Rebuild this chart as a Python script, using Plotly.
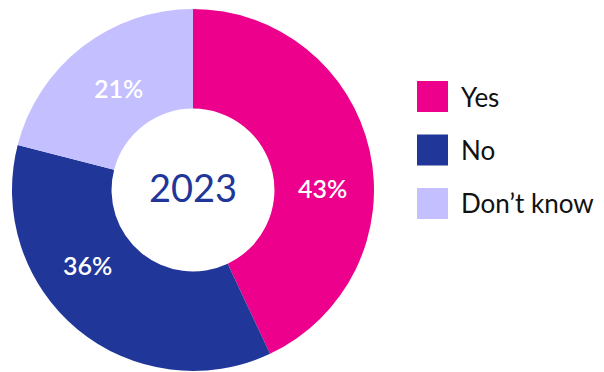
import math
import plotly.graph_objects as go

# Survey answers and shares (%)
labels = ["Yes", "No", "Don\u2019t know"]
values = [43, 36, 21]
colors = ["#EC008C", "#213699", "#C4BFFF"]
center_label = "2023"

W, H = 604, 372
FONT = "Lato"
CX, CY = 193, 190  # ring centre, px

# Where each percentage label sits (angle clockwise from 12 o'clock, distance from centre in px)
label_polar = [(89, 130), (234.5, 129), (324, 126)]

fig = go.Figure(
    go.Pie(
        labels=labels,
        values=values,
        hole=0.45,
        sort=False,
        direction="clockwise",
        rotation=0,
        marker=dict(colors=colors, line=dict(width=0)),
        textinfo="none",
        domain=dict(x=[12 / W, 374 / W], y=[1 - 371 / H, 1 - 9 / H]),
        showlegend=False,
        hoverinfo="label+percent",
    )
)

# Percentage labels on the slices
for v, (ang, dist) in zip(values, label_polar):
    a = math.radians(ang)
    px = CX + dist * math.sin(a)
    py = CY - dist * math.cos(a)
    fig.add_annotation(
        x=px / W, y=1 - py / H, xref="paper", yref="paper",
        xanchor="center", yanchor="middle",
        text=f"{v}%", showarrow=False,
        font=dict(family=FONT, size=25, color="white", weight=600),
    )

# Year in the centre of the ring
fig.add_annotation(
    x=CX / W, y=1 - 187 / H, xref="paper", yref="paper",
    xanchor="center", yanchor="middle",
    text=center_label, showarrow=False,
    font=dict(family=FONT, size=38, color="#213699", weight=400),
)

# Custom legend: large square swatches with labels
sw_left, sw_size, first_top, step = 417, 31, 81, 53.5
for i, (lab, col) in enumerate(zip(labels, colors)):
    top = first_top + i * step
    fig.add_shape(
        type="rect", xref="paper", yref="paper",
        x0=sw_left / W, x1=(sw_left + sw_size) / W,
        y0=1 - (top + sw_size) / H, y1=1 - top / H,
        fillcolor=col, line=dict(width=0),
    )
    fig.add_annotation(
        x=459 / W, y=1 - (top + sw_size / 2) / H, xref="paper", yref="paper",
        xanchor="left", yanchor="middle", text=lab, showarrow=False,
        font=dict(family=FONT, size=26, color="#111111"),
    )

fig.update_layout(
    width=W, height=H,
    margin=dict(l=0, r=0, t=0, b=0),
    paper_bgcolor="white", plot_bgcolor="white",
)

fig.write_html("out.html")
